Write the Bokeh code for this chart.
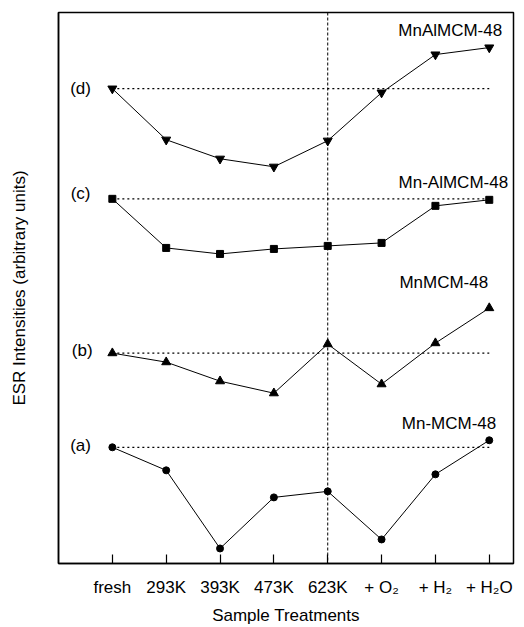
from bokeh.plotting import figure
from bokeh.models import FixedTicker, Label, Span
from bokeh.embed import file_html
from bokeh.resources import INLINE

# ---- data ----
treatments = ["fresh", "293K", "393K", "473K", "623K", "+ O\u2082", "+ H\u2082", "+ H\u2082O"]
positions = [1, 2, 3, 4, 5, 6, 7, 8]
mnalmcm48 = [474, 423, 404, 396, 422, 470, 508, 515]     # (d) MnAlMCM-48
mn_almcm48 = [364, 315, 309, 314, 317, 320, 357, 363]    # (c) Mn-AlMCM-48
mnmcm48 = [210, 201, 182, 170, 219, 179, 220, 255]       # (b) MnMCM-48
mn_mcm48 = [116, 93, 15, 66, 72, 24, 89, 123]            # (a) Mn-MCM-48

series_names = ["MnAlMCM-48", "Mn-AlMCM-48", "MnMCM-48", "Mn-MCM-48"]
series_tags = ["(d)", "(c)", "(b)", "(a)"]
series_values = [mnalmcm48, mn_almcm48, mnmcm48, mn_mcm48]
series_markers = ["inverted_triangle", "square", "triangle", "circle"]
marker_sizes = [9, 7, 9, 7]
name_pos = [(8.24, 532), (8.35, 380), (7.98, 280), (8.13, 140)]
tag_pos = [(0.41, 474), (0.41, 369), (0.44, 213), (0.41, 118)]

FONT = "Liberation Sans"

p = figure(width=520, height=627, x_range=(0, 8.45), y_range=(0, 550),
           output_backend="svg", toolbar_location=None,
           min_border_left=58, min_border_right=7, min_border_top=12, min_border_bottom=60)
p.grid.visible = False
p.background_fill_color = "white"
p.border_fill_color = "white"
p.outline_line_color = "black"
p.outline_line_width = 1.5

# x axis
p.xaxis.ticker = FixedTicker(ticks=positions)
p.xaxis.major_label_overrides = {pos: lab for pos, lab in zip(positions, treatments)}
p.xaxis.major_tick_in = 9
p.xaxis.major_tick_out = 0
p.xaxis.minor_tick_line_color = None
p.xaxis.major_tick_line_color = "black"
p.xaxis.major_tick_line_width = 1.2
p.xaxis.axis_line_color = "black"
p.xaxis.axis_line_width = 1.5
p.xaxis.major_label_text_font = FONT
p.xaxis.major_label_text_font_size = "17px"
p.xaxis.major_label_text_color = "black"
p.xaxis.major_label_standoff = 14
p.xaxis.axis_label = "Sample Treatments"
p.xaxis.axis_label_text_font = FONT
p.xaxis.axis_label_text_font_size = "17px"
p.xaxis.axis_label_text_font_style = "normal"
p.xaxis.axis_label_text_color = "black"
p.xaxis.axis_label_standoff = 6

# y axis
p.yaxis.ticker = FixedTicker(ticks=[])
p.yaxis.major_tick_line_color = None
p.yaxis.minor_tick_line_color = None
p.yaxis.major_label_text_font_size = "0px"
p.yaxis.axis_line_color = "black"
p.yaxis.axis_line_width = 1.5
p.yaxis.axis_label = "ESR Intensities (arbitrary units)"
p.yaxis.axis_label_text_font = FONT
p.yaxis.axis_label_text_font_size = "17px"
p.yaxis.axis_label_text_font_style = "normal"
p.yaxis.axis_label_text_color = "black"
p.yaxis.axis_label_standoff = 30

# vertical dotted line at 623K
p.add_layout(Span(location=positions[4], dimension="height", line_color="black",
                  line_width=1, line_dash="3 2"))

for name, tag, vals, mk, ms, npos, tpos in zip(series_names, series_tags, series_values,
                                               series_markers, marker_sizes, name_pos, tag_pos):
    # reference (fresh level) dotted line
    p.line([positions[0], positions[-1]], [vals[0], vals[0]], line_color="black",
           line_width=1.3, line_dash="2 3")
    p.line(positions, vals, line_color="black", line_width=1)
    p.scatter(positions, vals, marker=mk, size=ms, fill_color="black", line_color="black")
    p.add_layout(Label(x=npos[0], y=npos[1], text=name, text_align="right",
                       text_baseline="middle", text_font=FONT, text_font_size="17px",
                       text_color="black"))
    p.add_layout(Label(x=tpos[0], y=tpos[1], text=tag, text_align="center",
                       text_baseline="middle", text_font=FONT, text_font_size="17px",
                       text_color="black"))

open("out.html", "w").write(file_html(p, INLINE))
